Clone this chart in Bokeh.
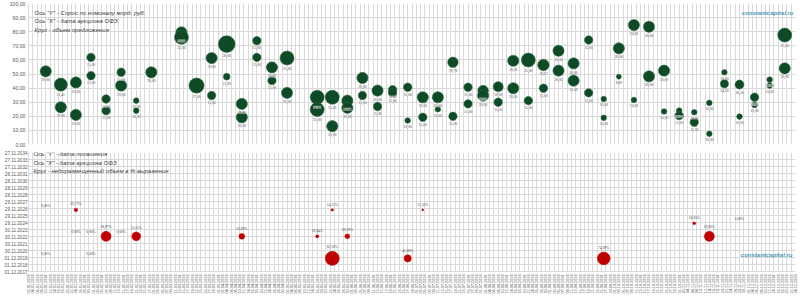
import math
import pandas as pd
from bokeh.plotting import figure
from bokeh.models import (ColumnDataSource, LabelSet, Label, Range1d, FixedTicker,
                          DatetimeTickFormatter, Div)
from bokeh.layouts import column
from bokeh.embed import file_html
from bokeh.resources import INLINE

# ---------------- data: top panel (demand vs auction date, bubble = offer) -------------
top_dates = [
    "2018-01-10",
    "2018-01-17", "2018-01-17",
    "2018-01-24", "2018-01-24",
    "2018-01-31", "2018-01-31",
    "2018-02-07", "2018-02-07",
    "2018-02-14", "2018-02-14",
    "2018-02-21", "2018-02-21",
    "2018-02-28",
    "2018-03-14", "2018-03-14",
    "2018-03-21",
    "2018-03-28", "2018-03-28",
    "2018-04-04", "2018-04-04",
    "2018-04-11", "2018-04-11",
    "2018-04-18", "2018-04-18",
    "2018-04-25", "2018-04-25",
    "2018-05-02", "2018-05-02",
    "2018-05-16", "2018-05-16",
    "2018-05-23", "2018-05-23",
    "2018-05-30", "2018-05-30",
    "2018-06-06", "2018-06-06",
    "2018-06-13", "2018-06-13",
    "2018-06-20", "2018-06-20",
    "2018-06-27", "2018-06-27",
    "2018-07-04", "2018-07-04",
    "2018-07-11", "2018-07-11",
    "2018-07-18", "2018-07-18",
    "2018-07-25", "2018-07-25",
    "2018-08-01", "2018-08-01",
    "2018-08-08", "2018-08-08",
    "2018-08-15", "2018-08-15",
    "2018-08-22", "2018-08-22",
    "2018-08-29", "2018-08-29",
    "2018-09-05", "2018-09-05",
    "2018-09-12", "2018-09-12",
    "2018-09-19", "2018-09-19",
    "2018-09-26", "2018-09-26",
    "2018-10-03", "2018-10-03",
    "2018-10-10", "2018-10-10",
    "2018-10-17", "2018-10-17",
    "2018-10-24", "2018-10-24",
    "2018-10-31", "2018-10-31",
    "2018-11-07", "2018-11-07",
    "2018-11-14", "2018-11-14",
    "2018-11-21", "2018-11-21",
    "2018-11-28", "2018-11-28",
    "2018-12-05", "2018-12-05",
    "2018-12-12", "2018-12-12",
    "2018-12-19", "2018-12-19",
]
top_demand = [
    51.9,
    42.5, 26.4,
    44.0, 21.0,
    61.8, 48.8,
    32.3, 24.0,
    51.2, 41.8,
    31.1, 24.0,
    51.2,
    79.5, 76.0,
    41.8,
    61.3, 34.7,
    71.2, 48.1,
    28.8, 19.3,
    73.6, 61.8,
    54.7, 45.3,
    61.3, 36.6,
    33.5, 24.8,
    33.5, 13.0,
    31.1, 26.0,
    47.2, 34.7,
    38.2, 26.9,
    38.8, 36.6,
    40.6, 17.0,
    33.5, 19.3,
    33.5, 25.0,
    58.3, 20.0,
    40.6, 28.8,
    38.2, 34.7,
    41.0, 30.0,
    59.4, 39.9,
    59.9, 31.1,
    56.4, 39.9,
    66.5, 52.4,
    57.5, 45.3,
    74.1, 36.6,
    32.3, 18.9,
    68.2, 48.1,
    84.7, 31.6,
    83.5, 48.3,
    52.4, 23.4,
    24.0, 20.5,
    22.9, 15.8,
    29.5, 7.6,
    51.2, 43.0,
    42.5, 19.8,
    33.5, 28.0,
    46.0, 41.8,
    77.6, 54.0,
]
top_offer = [
    20.00,
    23.41, 20.00,
    20.00, 20.00,
    15.00, 15.00,
    15.00, 15.00,
    15.00, 20.00,
    10.00, 10.00,
    20.00,
    20.00, 25.00,
    27.00,
    20.00, 15.00,
    30.00, 11.90,
    20.00, 20.00,
    15.00, 15.00,
    20.00, 15.00,
    25.00, 20.00,
    25.00, 25.00,
    25.00, 20.00,
    20.00, 20.00,
    20.00, 15.00,
    20.00, 15.00,
    15.00, 15.00,
    15.00, 10.00,
    20.00, 15.00,
    20.00, 10.00,
    18.78, 15.00,
    15.00, 15.00,
    19.00, 20.00,
    18.00, 15.00,
    20.00, 20.00,
    25.00, 15.00,
    20.67, 15.00,
    20.00, 20.00,
    20.00, 20.00,
    15.00, 15.00,
    10.00, 10.00,
    20.00, 8.89,
    20.00, 10.00,
    20.00, 20.00,
    20.00, 10.00,
    10.00, 15.00,
    10.00, 15.00,
    10.00, 10.00,
    10.00, 14.50,
    16.10, 10.00,
    15.00, 10.00,
    10.00, 10.00,
    25.00, 20.00,
]

# ---------------- data: bottom panel (maturity vs auction date, bubble = % unplaced) ----
bot_dates = ["2018-01-10", "2018-01-10", "2018-01-24", "2018-01-24", "2018-01-31",
             "2018-01-31", "2018-02-07", "2018-02-14", "2018-02-21", "2018-04-11",
             "2018-05-16", "2018-05-23", "2018-05-23", "2018-05-30", "2018-06-27",
             "2018-07-04", "2018-09-26", "2018-11-07", "2018-11-14", "2018-11-28"]
bot_maturity = ["2026-09-16", "2019-10-16", "2026-09-16", "2022-12-07", "2022-12-07",
                "2019-10-16", "2022-12-07", "2022-12-07", "2022-12-07", "2022-12-07",
                "2022-12-07", "2026-09-16", "2019-10-16", "2022-12-07", "2019-10-16",
                "2026-09-16", "2019-10-16", "2024-10-16", "2022-12-07", "2024-10-16"]
bot_pct = [0.00, 0.00, 20.72, 0.00, 0.00,
           0.00, 58.87, 0.00, 51.61, 33.89,
           18.84, 14.11, 82.50, 28.59, 41.80,
           11.32, 74.89, 16.05, 58.83, 0.00]

# axis texts
top_notes = ['Ось "Y" - Спрос по номиналу млрд. руб.',
             'Ось "X" -  дата аукциона ОФЗ',
             'Круг - объем предложения']
bot_notes = ['Ось "Y" - дата погашения',
             'Ось "X" - дата аукциона ОФЗ',
             'Круг - недоразмещенный объем в % выражение']
watermark = "constantcapital.ru"
y_ticks_top = [0, 10, 20, 30, 40, 50, 60, 70, 80, 90, 100]

# ---------------- helpers ----------------
X_START = pd.Timestamp("2018-01-02")
X_END = pd.Timestamp("2018-12-24")
Y2_START = pd.Timestamp("2017-12-01")
Y2_END = pd.Timestamp("2034-11-27")

def ms(ts):
    return pd.Timestamp(ts).value / 1e6

x_ticks = [ms(t) for t in pd.date_range(X_START, X_END, freq="2D")]
y2_ticks = [ms(Y2_START + pd.Timedelta(days=365 * k)) for k in range(18)]

def fmt(v):
    return f"{v:.2f}".replace(".", ",")

GRID = "#d9d9d9"
TXT = "#404040"
FONT = "Liberation Sans"
date_fmt = dict(microseconds="%d.%m.%Y", milliseconds="%d.%m.%Y", seconds="%d.%m.%Y",
                minsec="%d.%m.%Y", minutes="%d.%m.%Y", hourmin="%d.%m.%Y", hours="%d.%m.%Y",
                days="%d.%m.%Y", months="%d.%m.%Y", years="%d.%m.%Y")

def clean_axis(ax):
    ax.major_tick_out = 0
    ax.major_tick_in = 0
    ax.minor_tick_out = 0
    ax.minor_tick_in = 0
    ax.major_tick_line_color = None
    ax.minor_tick_line_color = None
    ax.axis_line_color = GRID
    ax.major_label_text_color = "#595959"
    ax.major_label_text_font = FONT

# ---------------- top figure ----------------
top_r = [0.28 * v for v in top_offer]
top_src = ColumnDataSource(dict(
    x=pd.to_datetime(top_dates), y=top_demand, size=[2 * r for r in top_r],
    label=[fmt(v) for v in top_offer], yoff=[-(r + 1.5) for r in top_r]))

p1 = figure(width=800, height=148, output_backend="svg", toolbar_location=None,
            x_axis_type="datetime",
            x_range=Range1d(X_START, X_END), y_range=Range1d(0, 100),
            min_border_left=28, min_border_right=5, min_border_top=3, min_border_bottom=4)
p1.outline_line_color = None
p1.xaxis.visible = False
p1.xgrid.ticker = FixedTicker(ticks=x_ticks)
p1.xgrid.grid_line_color = GRID
p1.ygrid.grid_line_color = GRID
clean_axis(p1.yaxis[0])
p1.yaxis.ticker = FixedTicker(ticks=y_ticks_top)
p1.yaxis.major_label_overrides = {t: fmt(t) for t in y_ticks_top}
p1.yaxis.major_label_standoff = 3
p1.yaxis.major_label_text_font_size = "5.2px"

p1.scatter("x", "y", size="size", source=top_src, fill_color="#0e4a25",
           line_color="#2f6b43", line_width=0.6)
p1.add_layout(LabelSet(x="x", y="y", text="label", source=top_src, y_offset="yoff",
                       text_align="center", text_baseline="top", text_font_size="3.6px",
                       text_color=TXT, text_font=FONT,
                       background_fill_color="white", background_fill_alpha=0.6))

for i, t in enumerate(top_notes):
    p1.add_layout(Label(x=6, y=131.3 - 8.2 * i, x_units="screen", y_units="screen", text=t,
                        text_font_size="6px", text_font_style="italic", text_color=TXT,
                        text_font=FONT, text_baseline="middle"))
p1.add_layout(Label(x=765, y=131.7, x_units="screen", y_units="screen", text=watermark,
                    text_align="right", text_baseline="middle", text_font_size="6px",
                    text_font_style="bold italic", text_color="#4a98b8", text_font=FONT))

# ---------------- bottom figure ----------------
bot_r = [0.085 * v for v in bot_pct]
bot_src = ColumnDataSource(dict(
    x=pd.to_datetime(bot_dates), y=pd.to_datetime(bot_maturity),
    size=[2 * r for r in bot_r], label=[fmt(v) + "%" for v in bot_pct],
    yoff=[r + 2.0 for r in bot_r]))

p2 = figure(width=800, height=148, output_backend="svg", toolbar_location=None,
            x_axis_type="datetime", y_axis_type="datetime",
            x_range=Range1d(X_START, X_END), y_range=Range1d(Y2_START, Y2_END),
            min_border_left=28, min_border_right=5, min_border_top=4, min_border_bottom=22)
p2.outline_line_color = None
clean_axis(p2.xaxis[0])
clean_axis(p2.yaxis[0])
p2.xaxis.ticker = FixedTicker(ticks=x_ticks)
p2.yaxis.ticker = FixedTicker(ticks=y2_ticks)
p2.xaxis.formatter = DatetimeTickFormatter(strip_leading_zeros=False, **date_fmt)
p2.yaxis.formatter = DatetimeTickFormatter(strip_leading_zeros=False, **date_fmt)
p2.xgrid.grid_line_color = GRID
p2.ygrid.grid_line_color = GRID
p2.xaxis.major_label_orientation = math.pi / 2
p2.xaxis.major_label_text_font_size = "3.8px"
p2.xaxis.major_label_standoff = 3
p2.yaxis.major_label_text_font_size = "4.6px"
p2.yaxis.major_label_standoff = 1

p2.scatter("x", "y", size="size", source=bot_src, fill_color="#c00000",
           line_color="#c00000", line_width=0.5)
p2.add_layout(LabelSet(x="x", y="y", text="label", source=bot_src, y_offset="yoff",
                       text_align="center", text_baseline="bottom", text_font_size="3.6px",
                       text_color=TXT, text_font=FONT))

for i, t in enumerate(bot_notes):
    p2.add_layout(Label(x=5, y=117.3 - 8.5 * i, x_units="screen", y_units="screen", text=t,
                        text_font_size="6px", text_font_style="italic", text_color=TXT,
                        text_font=FONT, text_baseline="middle"))
p2.add_layout(Label(x=764, y=17, x_units="screen", y_units="screen", text=watermark,
                    text_align="right", text_baseline="middle", text_font_size="6px",
                    text_font_style="bold italic", text_color="#4a98b8", text_font=FONT))

bar = Div(width=800, height=2, styles={"background-color": "#bfbfbf"})

layout = column(p1, p2, bar, spacing=0)
open("out.html", "w").write(file_html(layout, INLINE))
